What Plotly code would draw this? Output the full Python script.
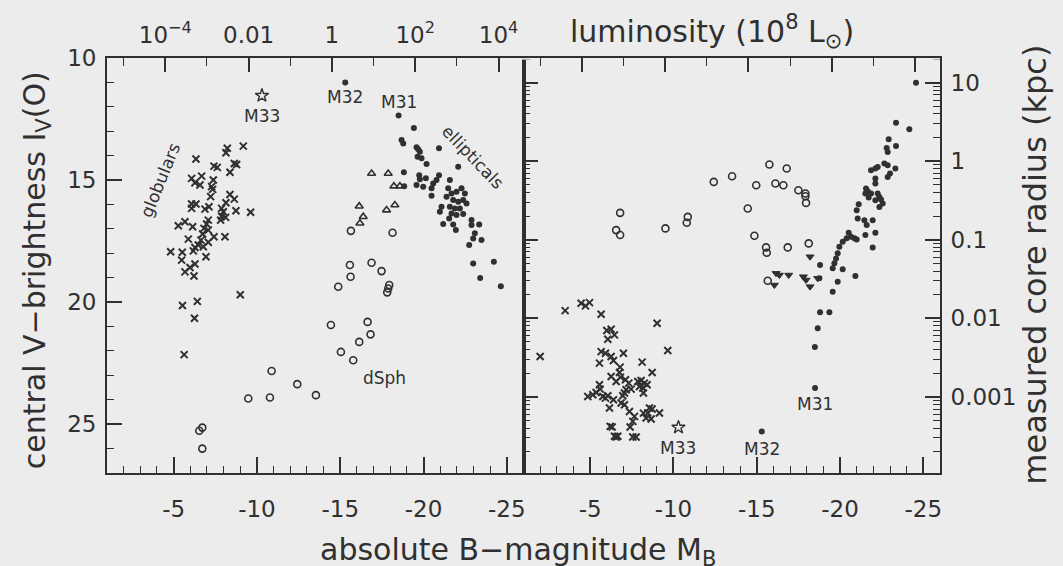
import numpy as np
import plotly.graph_objects as go

# ---------------- data: left panel, central V surface brightness ----------------
glob_MB_L = [-9.18, -8.22, -8.14, -6.34, -8.64, -8.78, -7.42, -7.62, -8.38, -6.08,
             -6.68, -6.28, -6.58, -7.38, -7.28, -7.34, -7.22, -8.38, -8.64, -8.14,
             -6.08, -6.34, -6.08, -6.88, -7.12, -7.88, -7.98, -8.74, -9.62, -7.88,
             -8.12, -7.82, -7.08, -6.98, -5.28, -5.68, -6.14, -6.82, -7.08, -6.74,
             -7.42, -8.08, -5.88, -6.64, -7.08, -6.48, -6.78, -6.28, -6.18, -4.82,
             -5.52, -6.94, -5.48, -6.28, -5.98, -5.68, -6.22, -9.00, -5.53, -6.42,
             -6.25, -5.63]
glob_mu = [13.61, 13.70, 13.88, 14.14, 14.32, 14.36, 14.43, 14.48, 14.68, 14.93,
           14.84, 15.11, 15.20, 15.00, 15.27, 15.38, 15.68, 15.59, 15.78, 15.93,
           15.98, 15.98, 16.16, 16.19, 16.09, 16.16, 16.30, 16.26, 16.32, 16.48,
           16.53, 16.64, 16.64, 16.80, 16.87, 16.71, 16.91, 16.98, 17.05, 17.21,
           17.32, 17.32, 17.42, 17.46, 17.55, 17.66, 17.73, 17.76, 17.90, 17.94,
           17.96, 18.14, 18.28, 18.44, 18.58, 18.76, 18.93, 19.70, 20.14, 19.97,
           20.66, 22.15]

dsph_MB_L = [-15.64, -18.14, -15.58, -16.88, -17.48, -15.62, -14.88, -17.94, -17.88, -17.82,
             -14.44, -16.64, -16.82, -16.14, -15.04, -15.78, -10.88, -12.42, -13.54, -9.48,
             -10.78, -6.72, -6.54, -6.72]
dsph_mu = [17.08, 17.16, 18.48, 18.39, 18.73, 18.96, 19.37, 19.30, 19.44, 19.60,
           20.94, 20.81, 21.32, 21.63, 22.04, 22.38, 22.82, 23.36, 23.81, 23.95,
           23.91, 25.14, 25.27, 26.00]

ell_MB_L = [-19.42, -18.68, -18.78, -19.58, -19.68, -19.78, -19.64, -19.88, -20.93, -20.18,
            -22.08, -18.82, -18.84, -19.74, -19.78, -20.14, -19.58, -19.98, -20.58, -20.78,
            -20.93, -20.48, -20.48, -21.58, -21.48, -21.38, -21.68, -21.98, -22.28, -22.48,
            -21.78, -22.08, -22.38, -22.58, -21.58, -21.88, -22.18, -21.08, -20.98, -21.68,
            -21.98, -21.54, -22.38, -21.18, -21.78, -21.94, -22.88, -23.34, -22.88, -23.08,
            -22.98, -22.74, -23.48, -22.98, -24.22, -23.40, -24.64]
ell_mu = [12.87, 13.36, 13.50, 13.66, 13.74, 13.84, 14.05, 14.11, 13.70, 14.34,
          14.45, 14.68, 15.25, 14.80, 14.97, 14.93, 15.20, 15.27, 15.14, 15.00,
          14.80, 15.34, 15.64, 15.00, 15.34, 15.68, 15.55, 15.48, 15.34, 15.55,
          15.82, 15.89, 15.82, 15.96, 16.09, 16.16, 16.16, 16.09, 16.30, 16.37,
          16.43, 16.57, 16.39, 16.80, 16.82, 17.05, 16.64, 16.82, 16.84, 17.18,
          17.39, 17.66, 17.46, 18.42, 18.35, 19.01, 19.35]

# upper-limit (brighter-than) points
lim_MB_L = [-16.88, -17.88, -18.22, -18.58, -16.14, -16.38, -17.78, -18.28, -16.18]
lim_mu = [14.73, 14.73, 15.25, 15.25, 16.07, 16.50, 16.23, 16.02, 16.77]

# ---------------- data: right panel, core radius (log10 kpc) ----------------
glob_MB_R = [-2.00, -3.50, -4.46, -4.72, -4.96, -5.66, -9.02, -6.00, -6.26, -6.46,
             -6.06, -9.66, -5.66, -5.92, -6.26, -6.40, -7.00, -5.56, -8.12, -8.72,
             -6.80, -6.76, -6.82, -6.56, -6.26, -7.12, -7.32, -7.46, -7.16, -7.06,
             -7.86, -8.06, -8.26, -8.16, -7.96, -8.42, -8.20, -5.56, -5.60, -5.36,
             -4.86, -5.16, -5.76, -5.92, -6.06, -6.40, -6.16, -6.86, -6.96, -7.06,
             -7.36, -7.66, -7.56, -8.56, -8.72, -8.46, -8.36, -8.66, -8.20, -9.16,
             -6.20, -6.32, -7.40, -6.46, -6.66, -6.56, -7.56, -7.76]
glob_logrc = [-2.487, -1.902, -1.808, -1.842, -1.800, -1.948, -2.062, -2.156, -2.139, -2.211,
              -2.266, -2.411, -2.424, -2.444, -2.487, -2.538, -2.444, -2.571, -2.558, -2.690,
              -2.622, -2.690, -2.749, -2.805, -2.741, -2.783, -2.825, -2.902, -2.910, -2.952,
              -2.805, -2.792, -2.825, -2.888, -2.868, -2.846, -2.952, -2.846, -2.902, -2.944,
              -2.995, -2.974, -2.995, -3.016, -2.986, -3.037, -3.142, -3.079, -2.986, -3.100,
              -3.186, -3.249, -3.313, -3.142, -3.155, -3.206, -3.270, -3.282, -3.208, -3.206,
              -3.376, -3.384, -3.384, -3.503, -3.503, -3.511, -3.511, -3.511]

dsph_MB_R = [-6.80, -6.56, -6.80, -9.52, -10.86, -10.80, -12.42, -13.52, -15.76, -16.80,
             -14.97, -16.12, -16.60, -17.50, -17.92, -17.92, -17.96, -14.46, -14.86, -15.56,
             -15.60, -16.86, -18.12, -15.66]
dsph_logrc = [-0.657, -0.877, -0.940, -0.855, -0.708, -0.784, -0.263, -0.191, -0.042, -0.093,
              -0.305, -0.283, -0.305, -0.369, -0.411, -0.445, -0.530, -0.601, -0.949, -1.097,
              -1.165, -1.097, -1.046, -1.521]

ell_MB_R = [-24.56, -23.36, -24.16, -22.92, -23.36, -22.80, -22.86, -22.66, -22.86, -23.32,
            -21.86, -22.12, -22.26, -23.00, -22.86, -22.12, -22.12, -21.56, -21.66, -21.52,
            -21.86, -21.72, -22.26, -22.36, -22.46, -22.56, -22.12, -22.36, -21.12, -21.00,
            -21.06, -21.46, -21.60, -21.96, -21.52, -22.12, -20.52, -20.66, -20.86, -21.00,
            -20.40, -21.96, -20.16, -19.96, -19.86, -19.76, -19.66, -19.56, -20.16, -20.92,
            -18.80, -18.76, -19.86, -19.56, -18.80, -19.36, -18.66, -18.49]
ell_logrc = [1.000, 0.492, 0.407, 0.279, 0.194, 0.169, 0.118, -0.029, -0.051, -0.093,
             -0.114, -0.093, -0.072, -0.156, -0.199, -0.220, -0.283, -0.347, -0.381, -0.411,
             -0.411, -0.461, -0.411, -0.454, -0.487, -0.538, -0.496, -0.581, -0.547, -0.623,
             -0.728, -0.750, -0.813, -0.750, -0.940, -0.911, -0.911, -0.962, -0.982, -0.995,
             -0.982, -1.097, -1.025, -1.089, -1.173, -1.237, -1.300, -1.364, -1.376, -1.461,
             -1.322, -1.491, -1.534, -1.661, -1.923, -1.923, -2.126, -2.365]

# unresolved cores (upper limits)
lim_MB_R = [-16.16, -16.36, -16.06, -16.92, -18.20, -17.80, -17.96, -18.20, -18.66]
lim_logrc = [-1.427, -1.449, -1.576, -1.449, -1.216, -1.470, -1.512, -1.597, -1.491]

# Local Group galaxies singled out by name
named = ["M31", "M32", "M33"]
named_MB = [-18.5, -15.3, -10.3]
named_mu = [12.36, 11.00, 11.54]
named_logrc = [-2.886, -3.440, -3.389]

# axis ticks
mag_ticks = [-5, -10, -15, -20, -25]
mag_labels = ["-5", "-10", "-15", "-20", "-25"]
mu_ticks = [10, 15, 20, 25]
rc_ticks = [10, 1, 0.1, 0.01, 0.001]
rc_labels = ["10", "1", "0.1", "0.01", "0.001"]
lum_ticks = [1e-4, 1e-2, 1, 1e2, 1e4]
lum_labels = ["10<sup>−4</sup>", "0.01", "1", "10<sup>2</sup>", "10<sup>4</sup>"]

M_SUN_B = 5.5          # absolute B magnitude of the Sun
LUM_UNIT = 1e8         # luminosity unit, solar luminosities


def lum_to_mag(lum):
    return M_SUN_B - 2.5 * np.log10(np.asarray(lum) * LUM_UNIT)


INK = "#303030"
FONT = "DejaVu Sans"
BG = "#ececec"

fig = go.Figure()


def scatter(x, y, xa, ya, symbol, size, lw=1.4, opacity=1.0):
    fig.add_trace(go.Scatter(
        x=x, y=y, xaxis=xa, yaxis=ya, mode="markers", showlegend=False,
        hoverinfo="skip", opacity=opacity,
        marker=dict(symbol=symbol, size=size, color=INK,
                    line=dict(color=INK, width=lw)),
    ))


rc = lambda v: 10 ** np.asarray(v)

# left panel
scatter(glob_MB_L, glob_mu, "x", "y", "x-thin-open", 7, 2)
scatter(dsph_MB_L, dsph_mu, "x", "y", "circle-open", 7, 1.6)
scatter(ell_MB_L, ell_mu, "x", "y", "circle", 6, 0)
scatter(lim_MB_L, lim_mu, "x", "y", "triangle-up-open", 7, 1.6)
scatter(named_MB[:2], named_mu[:2], "x", "y", "circle", 6, 0)
scatter(named_MB[2:], named_mu[2:], "x", "y", "star-open", 10, 1.4)

# right panel
scatter(glob_MB_R, rc(glob_logrc), "x2", "y2", "x-thin-open", 7, 2)
scatter(dsph_MB_R, rc(dsph_logrc), "x2", "y2", "circle-open", 7, 1.6)
scatter(ell_MB_R, rc(ell_logrc), "x2", "y2", "circle", 6, 0)
scatter(lim_MB_R, rc(lim_logrc), "x2", "y2", "triangle-down", 7, 1)
scatter(named_MB[:2], rc(named_logrc[:2]), "x2", "y2", "circle", 6, 0)
scatter(named_MB[2:], rc(named_logrc[2:]), "x2", "y2", "star-open", 10, 1.4)

# thin strip along the top edge carries the luminosity scale
# (transparent traces make plotly create the strip)
scatter(named_MB, named_mu, "x3", "y3", "circle", 1, 0, opacity=0)
scatter(named_MB, named_mu, "x4", "y3", "circle", 1, 0, opacity=0)

tickfont = dict(family=FONT, size=23, color=INK)
frame = dict(showline=True, linecolor=INK, linewidth=1.8, showgrid=False,
             zeroline=False, tickcolor=INK, tickwidth=1.5, automargin=False)
minor_style = dict(ticks="inside", tickwidth=1.3, tickcolor=INK, showgrid=False)

bottom = dict(range=[-1, -26], tickmode="array", tickvals=mag_ticks, ticktext=mag_labels,
              ticks="inside", ticklen=16, mirror=True, tickfont=tickfont,
              ticklabelstandoff=14,
              minor=dict(tick0=0, dtick=1, ticklen=7, **minor_style),
              **frame)

# luminosity decades: labelled every factor 100, minor ticks halfway (factor 10)
lum_M = list(lum_to_mag(lum_ticks))
lum_minor_start = float(lum_to_mag(10.0 ** -5))
top = dict(range=[-1, -26], side="top", anchor="y3", tickmode="array", tickvals=lum_M,
           ticks="inside", ticklen=14, tickfont=tickfont, ticklabelstandoff=4,
           minor=dict(tick0=lum_minor_start, dtick=5, ticklen=8, **minor_style),
           **frame)

fig.update_layout(
    template="none",
    width=1063, height=566,
    margin=dict(l=107, r=123, t=58, b=93),
    paper_bgcolor=BG, plot_bgcolor=BG,
    font=dict(family=FONT, color=INK),
    showlegend=False,
    xaxis=dict(domain=[0, 0.5], anchor="y", **bottom),
    xaxis2=dict(domain=[0.5, 1], anchor="y2", **bottom),
    xaxis3=dict(domain=[0, 0.5], ticktext=lum_labels, **top),
    xaxis4=dict(domain=[0.5, 1], showticklabels=False, **top),
    yaxis=dict(domain=[0, 1], anchor="x", range=[27, 10], tickmode="array",
               tickvals=mu_ticks, ticks="inside", ticklen=15, mirror=True,
               tickfont=tickfont, ticklabelstandoff=4,
               minor=dict(tick0=0, dtick=1, ticklen=7, **minor_style),
               **frame),
    yaxis2=dict(domain=[0, 1], anchor="x2", type="log", range=[-3.97, 1.315],
                side="right", tickmode="array", tickvals=rc_ticks, ticktext=rc_labels,
                ticks="inside", ticklen=15, mirror="allticks", tickfont=tickfont,
                ticklabelstandoff=4,
                minor=dict(dtick="D1", ticklen=7, **minor_style),
                **frame),
    yaxis3=dict(domain=[0.996, 1], anchor="x3", range=[0, 1], visible=False),
)

ann = []
title_font = dict(family=FONT, size=30, color=INK)
ann.append(dict(text="absolute B−magnitude M<sub>B</sub>", xref="paper", yref="paper",
                x=0.493, y=-0.19, showarrow=False, font=title_font,
                xanchor="center", yanchor="middle"))
ann.append(dict(text="central V−brightness I<sub>V</sub>(O)", xref="paper", yref="paper",
                x=-0.085, y=0.489, showarrow=False, textangle=-90, font=title_font,
                xanchor="center", yanchor="middle"))
ann.append(dict(text="measured core radius (kpc)", xref="paper", yref="paper",
                x=1.114, y=0.502, showarrow=False, textangle=-90,
                font=dict(family=FONT, size=32, color=INK),
                xanchor="center", yanchor="middle"))
ann.append(dict(text="luminosity (10<sup>8</sup> L<sub>⊙</sub>)", xref="paper", yref="paper",
                x=0.726, y=1.065, showarrow=False,
                font=dict(family=FONT, size=30, color=INK),
                xanchor="center", yanchor="middle"))

small = dict(family=FONT, size=17, color=INK)
ann.append(dict(text="globulars", xref="x", yref="y", x=-4.2, y=15.0, showarrow=False,
                textangle=-68, font=small))
ann.append(dict(text="ellipticals", xref="x", yref="y", x=-22.97, y=14.05, showarrow=False,
                textangle=46, font=small))
ann.append(dict(text="dSph", xref="x", yref="y", x=-17.68, y=23.09, showarrow=False,
                font=small))

# name tags: pixel offsets from each marker
left_shift = {"M31": 14, "M32": -15, "M33": -20}
right_shift = {"M31": -16, "M32": -18, "M33": -21}
for name, m, mu, lr in zip(named, named_MB, named_mu, named_logrc):
    ann.append(dict(text=name, xref="x", yref="y", x=m, y=mu, showarrow=False,
                    yshift=left_shift[name], font=small))
    ann.append(dict(text=name, xref="x2", yref="y2", x=m, y=lr, showarrow=False,
                    yshift=right_shift[name], font=small))

fig.update_layout(annotations=ann)
fig.write_html("out.html")
